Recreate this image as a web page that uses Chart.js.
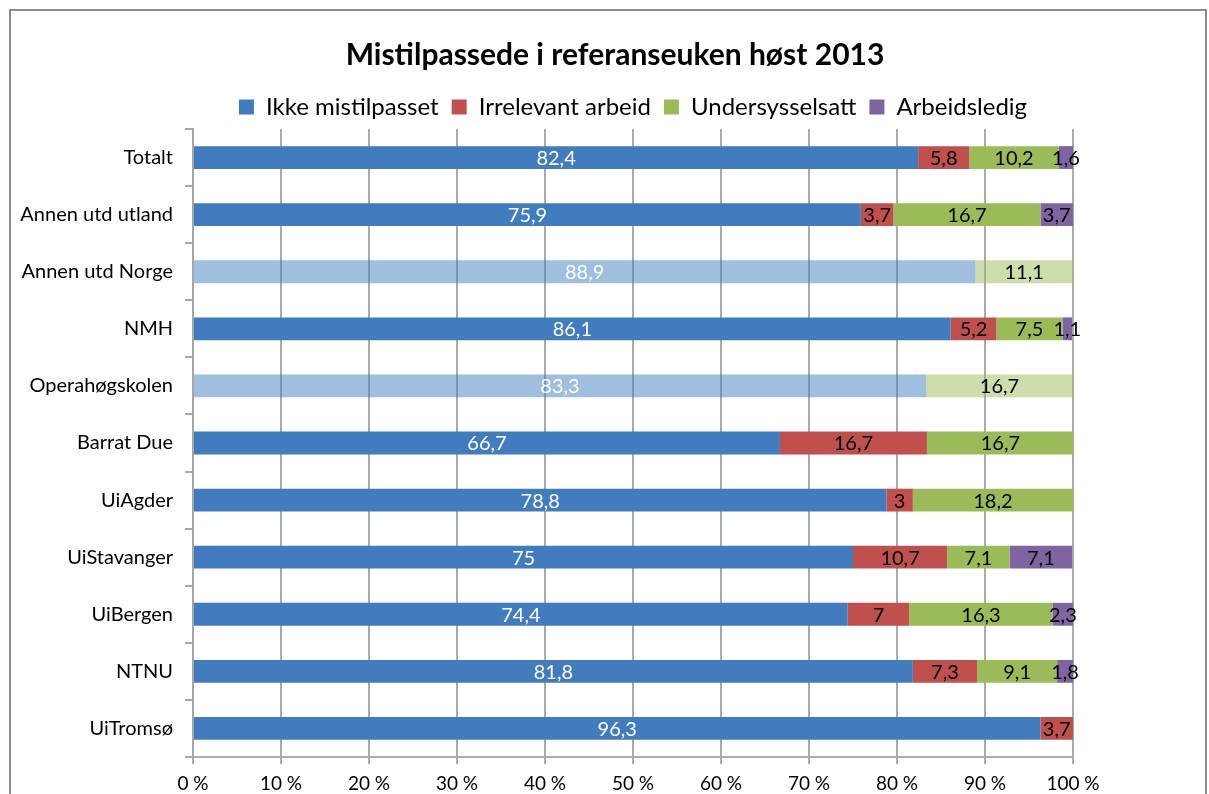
<!DOCTYPE html>
<html>
<head>
<meta charset="utf-8">
<title>Mistilpassede i referanseuken høst 2013</title>
<script src="https://cdn.jsdelivr.net/npm/chart.js@4.4.0/dist/chart.umd.min.js"></script>
<style>
  html, body { margin: 0; padding: 0; background: #fff; overflow: hidden; }
  #frame { position: absolute; left: 9px; top: 9px; width: 1198px; height: 900px; box-sizing: border-box; border: 2px solid #8c8c8c; }
  #mistilpassetChart { position: absolute; left: 0; top: 0; }
</style>
</head>
<body>
<div id="frame"></div>
<canvas id="mistilpassetChart" width="1209" height="794"></canvas>
<script>
  // Data (percent)
  var chartTitle = 'Mistilpassede i referanseuken høst 2013';
  var categories = ['Totalt', 'Annen utd utland', 'Annen utd Norge', 'NMH', 'Operahøgskolen',
    'Barrat Due', 'UiAgder', 'UiStavanger', 'UiBergen', 'NTNU', 'UiTromsø'];
  var seriesNames = ['Ikke mistilpasset', 'Irrelevant arbeid', 'Undersysselsatt', 'Arbeidsledig'];
  var ikkeMistilpasset = [82.4, 75.9, 88.9, 86.1, 83.3, 66.7, 78.8, 75, 74.4, 81.8, 96.3];
  var irrelevantArbeid = [5.8, 3.7, 0, 5.2, 0, 16.7, 3, 10.7, 7, 7.3, 3.7];
  var undersysselsatt = [10.2, 16.7, 11.1, 7.5, 16.7, 16.7, 18.2, 7.1, 16.3, 9.1, 0];
  var arbeidsledig = [1.6, 3.7, 0, 1.1, 0, 0, 0, 7.1, 2.3, 1.8, 0];
  // rows that are drawn faded in the original
  var fadedCategories = ['Annen utd Norge', 'Operahøgskolen'];

  var FONT = 'Lato';
  Chart.defaults.font.family = FONT;
  Chart.defaults.color = '#000';

  function fade(hex) {
    var r = parseInt(hex.substr(1, 2), 16), g = parseInt(hex.substr(3, 2), 16), b = parseInt(hex.substr(5, 2), 16);
    return 'rgba(' + r + ',' + g + ',' + b + ',0.5)';
  }

  // colour per bar, faded rows get half alpha (legend gets the plain colour)
  function barColor(hex) {
    return function(ctx) {
      if (ctx.dataIndex !== undefined && fadedCategories.indexOf(categories[ctx.dataIndex]) >= 0) {
        return fade(hex);
      }
      return hex;
    };
  }

  function makeDataset(label, values, hex) {
    return {
      label: label,
      data: values,
      backgroundColor: barColor(hex),
      borderWidth: 0,
      categoryPercentage: 1,
      barPercentage: 0.4
    };
  }

  // value labels in the middle of each segment
  var valueLabels = {
    id: 'valueLabels',
    afterDatasetsDraw: function(chart) {
      var ctx = chart.ctx;
      ctx.save();
      ctx.font = '20px ' + FONT;
      ctx.textAlign = 'center';
      ctx.textBaseline = 'middle';
      chart.data.datasets.forEach(function(ds, i) {
        var meta = chart.getDatasetMeta(i);
        meta.data.forEach(function(bar, j) {
          var v = ds.data[j];
          if (!v) return;
          ctx.fillStyle = i === 0 ? '#fff' : '#000';
          ctx.fillText(String(v).replace('.', ','), (bar.x + bar.base) / 2, bar.y + 1);
        });
      });
      ctx.restore();
    }
  };

  // title drawn by hand so it can sit where the original has it
  var titlePlugin = {
    id: 'titlePlugin',
    afterDraw: function(chart) {
      var ctx = chart.ctx;
      ctx.save();
      ctx.font = 'bold 30px ' + FONT;
      ctx.fillStyle = '#000';
      ctx.textAlign = 'center';
      ctx.textBaseline = 'middle';
      ctx.fillText(chartTitle, 615, 55);
      ctx.restore();
    }
  };

  function createChart() {
    var ctx = document.getElementById('mistilpassetChart').getContext('2d');
    new Chart(ctx, {
      type: 'bar',
      data: {
        labels: categories,
        datasets: [
          makeDataset(seriesNames[0], ikkeMistilpasset, '#417DBE'),
          makeDataset(seriesNames[1], irrelevantArbeid, '#C0504D'),
          makeDataset(seriesNames[2], undersysselsatt, '#9BBB59'),
          makeDataset(seriesNames[3], arbeidsledig, '#8064A2')
        ]
      },
      options: {
        indexAxis: 'y',
        responsive: false,
        animation: false,
        layout: { padding: { top: 82, right: 136, left: 0, bottom: 0 } },
        plugins: {
          title: { display: false },
          tooltip: { enabled: false },
          legend: {
            position: 'top',
            fullSize: false,
            labels: {
              font: { size: 24 },
              color: '#000',
              boxWidth: 15,
              boxHeight: 15,
              padding: 13
            }
          }
        },
        scales: {
          x: {
            stacked: true,
            min: 0,
            max: 100,
            afterFit: function(s) { s.height = 37; },
            ticks: {
              stepSize: 10,
              font: { size: 19 },
              color: '#000',
              padding: 8,
              callback: function(v) { return v + ' %'; }
            },
            grid: { color: '#ababab', lineWidth: 2, tickLength: 7 },
            border: { color: '#ababab', width: 2 }
          },
          y: {
            stacked: true,
            afterFit: function(s) { s.width = 193; },
            ticks: { font: { size: 20 }, color: '#000', padding: 12 },
            grid: { drawOnChartArea: false, offset: true, tickLength: 8, color: '#a6a6a6', lineWidth: 2 },
            border: { color: '#a6a6a6', width: 2 }
          }
        }
      },
      plugins: [valueLabels, titlePlugin]
    });
  }

  document.addEventListener('DOMContentLoaded', createChart);
</script>
</body>
</html>
